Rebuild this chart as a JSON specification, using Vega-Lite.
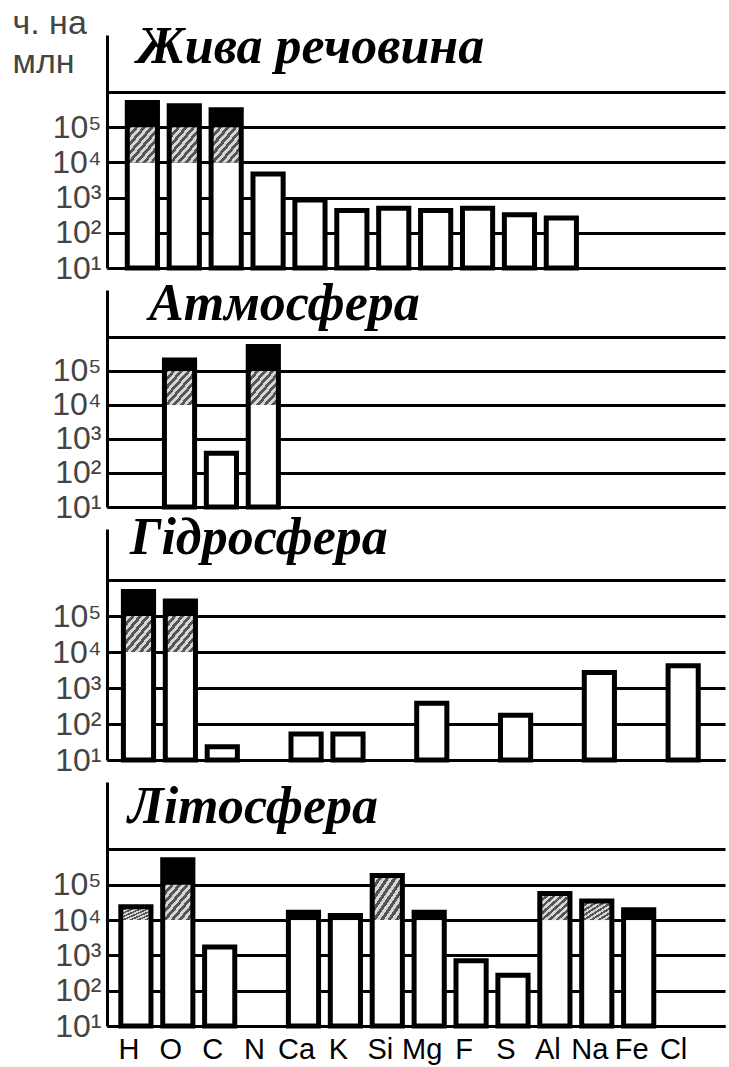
{
  "$schema": "https://vega.github.io/schema/vega-lite/v6.json",
  "background": "white",
  "padding": {"left": 12, "top": 6, "right": 2, "bottom": 2},
  "bounds": "flush",
  "spacing": 22,
  "datasets": {
    "segs": [
      {"sp": "L", "el": "H", "lo": 10, "hi": 10000, "k": "w"},
      {"sp": "L", "el": "H", "lo": 10000, "hi": 100000, "k": "h"},
      {"sp": "L", "el": "H", "lo": 100000, "hi": 501000, "k": "b"},
      {"sp": "L", "el": "O", "lo": 10, "hi": 10000, "k": "w"},
      {"sp": "L", "el": "O", "lo": 10000, "hi": 100000, "k": "h"},
      {"sp": "L", "el": "O", "lo": 100000, "hi": 407000, "k": "b"},
      {"sp": "L", "el": "C", "lo": 10, "hi": 10000, "k": "w"},
      {"sp": "L", "el": "C", "lo": 10000, "hi": 100000, "k": "h"},
      {"sp": "L", "el": "C", "lo": 100000, "hi": 316000, "k": "b"},
      {"sp": "L", "el": "N", "lo": 10, "hi": 4677, "k": "w"},
      {"sp": "L", "el": "Ca", "lo": 10, "hi": 851, "k": "w"},
      {"sp": "L", "el": "K", "lo": 10, "hi": 427, "k": "w"},
      {"sp": "L", "el": "Si", "lo": 10, "hi": 501, "k": "w"},
      {"sp": "L", "el": "Mg", "lo": 10, "hi": 427, "k": "w"},
      {"sp": "L", "el": "F", "lo": 10, "hi": 501, "k": "w"},
      {"sp": "L", "el": "S", "lo": 10, "hi": 324, "k": "w"},
      {"sp": "L", "el": "Al", "lo": 10, "hi": 263, "k": "w"},
      {"sp": "A", "el": "O", "lo": 10, "hi": 10000, "k": "w"},
      {"sp": "A", "el": "O", "lo": 10000, "hi": 100000, "k": "h"},
      {"sp": "A", "el": "O", "lo": 100000, "hi": 209000, "k": "b"},
      {"sp": "A", "el": "C", "lo": 10, "hi": 380, "k": "w"},
      {"sp": "A", "el": "N", "lo": 10, "hi": 10000, "k": "w"},
      {"sp": "A", "el": "N", "lo": 10000, "hi": 100000, "k": "h"},
      {"sp": "A", "el": "N", "lo": 100000, "hi": 525000, "k": "b"},
      {"sp": "H", "el": "H", "lo": 10, "hi": 10000, "k": "w"},
      {"sp": "H", "el": "H", "lo": 10000, "hi": 100000, "k": "h"},
      {"sp": "H", "el": "H", "lo": 100000, "hi": 479000, "k": "b"},
      {"sp": "H", "el": "O", "lo": 10, "hi": 10000, "k": "w"},
      {"sp": "H", "el": "O", "lo": 10000, "hi": 100000, "k": "h"},
      {"sp": "H", "el": "O", "lo": 100000, "hi": 263000, "k": "b"},
      {"sp": "H", "el": "C", "lo": 10, "hi": 23.4, "k": "w"},
      {"sp": "H", "el": "Ca", "lo": 10, "hi": 52.5, "k": "w"},
      {"sp": "H", "el": "K", "lo": 10, "hi": 52.5, "k": "w"},
      {"sp": "H", "el": "Mg", "lo": 10, "hi": 380, "k": "w"},
      {"sp": "H", "el": "S", "lo": 10, "hi": 174, "k": "w"},
      {"sp": "H", "el": "Na", "lo": 10, "hi": 2692, "k": "w"},
      {"sp": "H", "el": "Cl", "lo": 10, "hi": 4169, "k": "w"},
      {"sp": "T", "el": "H", "lo": 10, "hi": 10000, "k": "w"},
      {"sp": "T", "el": "H", "lo": 10000, "hi": 24000, "k": "h"},
      {"sp": "T", "el": "O", "lo": 10, "hi": 10000, "k": "w"},
      {"sp": "T", "el": "O", "lo": 10000, "hi": 100000, "k": "h"},
      {"sp": "T", "el": "O", "lo": 100000, "hi": 513000, "k": "b"},
      {"sp": "T", "el": "C", "lo": 10, "hi": 1738, "k": "w"},
      {"sp": "T", "el": "Ca", "lo": 10, "hi": 10000, "k": "w"},
      {"sp": "T", "el": "Ca", "lo": 10000, "hi": 16600, "k": "b"},
      {"sp": "T", "el": "K", "lo": 10, "hi": 10000, "k": "w"},
      {"sp": "T", "el": "K", "lo": 10000, "hi": 13490, "k": "b"},
      {"sp": "T", "el": "Si", "lo": 10, "hi": 10000, "k": "w"},
      {"sp": "T", "el": "Si", "lo": 10000, "hi": 182000, "k": "h"},
      {"sp": "T", "el": "Mg", "lo": 10, "hi": 10000, "k": "w"},
      {"sp": "T", "el": "Mg", "lo": 10000, "hi": 16600, "k": "b"},
      {"sp": "T", "el": "F", "lo": 10, "hi": 708, "k": "w"},
      {"sp": "T", "el": "S", "lo": 10, "hi": 275, "k": "w"},
      {"sp": "T", "el": "Al", "lo": 10, "hi": 10000, "k": "w"},
      {"sp": "T", "el": "Al", "lo": 10000, "hi": 56234, "k": "h"},
      {"sp": "T", "el": "Na", "lo": 10, "hi": 10000, "k": "w"},
      {"sp": "T", "el": "Na", "lo": 10000, "hi": 34674, "k": "h"},
      {"sp": "T", "el": "Fe", "lo": 10, "hi": 10000, "k": "w"},
      {"sp": "T", "el": "Fe", "lo": 10000, "hi": 19500, "k": "b"}
    ],
    "bars": [
      {"sp": "L", "el": "H", "v": 501000},
      {"sp": "L", "el": "O", "v": 407000},
      {"sp": "L", "el": "C", "v": 316000},
      {"sp": "L", "el": "N", "v": 4677},
      {"sp": "L", "el": "Ca", "v": 851},
      {"sp": "L", "el": "K", "v": 427},
      {"sp": "L", "el": "Si", "v": 501},
      {"sp": "L", "el": "Mg", "v": 427},
      {"sp": "L", "el": "F", "v": 501},
      {"sp": "L", "el": "S", "v": 324},
      {"sp": "L", "el": "Al", "v": 263},
      {"sp": "A", "el": "O", "v": 209000},
      {"sp": "A", "el": "C", "v": 380},
      {"sp": "A", "el": "N", "v": 525000},
      {"sp": "H", "el": "H", "v": 479000},
      {"sp": "H", "el": "O", "v": 263000},
      {"sp": "H", "el": "C", "v": 23.4},
      {"sp": "H", "el": "Ca", "v": 52.5},
      {"sp": "H", "el": "K", "v": 52.5},
      {"sp": "H", "el": "Mg", "v": 380},
      {"sp": "H", "el": "S", "v": 174},
      {"sp": "H", "el": "Na", "v": 2692},
      {"sp": "H", "el": "Cl", "v": 4169},
      {"sp": "T", "el": "H", "v": 24000},
      {"sp": "T", "el": "O", "v": 513000},
      {"sp": "T", "el": "C", "v": 1738},
      {"sp": "T", "el": "Ca", "v": 16600},
      {"sp": "T", "el": "K", "v": 13490},
      {"sp": "T", "el": "Si", "v": 182000},
      {"sp": "T", "el": "Mg", "v": 16600},
      {"sp": "T", "el": "F", "v": 708},
      {"sp": "T", "el": "S", "v": 275},
      {"sp": "T", "el": "Al", "v": 56234},
      {"sp": "T", "el": "Na", "v": 34674},
      {"sp": "T", "el": "Fe", "v": 19500}
    ]
  },
  "config": {
    "view": {"stroke": null},
    "title": {"font": "Liberation Serif", "fontStyle": "italic", "fontWeight": "bold", "fontSize": 52, "anchor": "start", "frame": "group", "offset": 0, "baseline": "alphabetic", "color": "black"},
    "axisY": {"grid": true, "gridColor": "black", "gridWidth": 3, "gridOpacity": 1, "ticks": false, "domain": true, "domainColor": "black", "domainWidth": 3, "labelFont": "Liberation Sans", "labelFontSize": 32, "labelColor": "#444", "labelPadding": 6, "labelOverlap": false, "labelFlush": false, "labelBound": false},
    "axisX": {"title": null, "ticks": false, "domain": true, "domainColor": "black", "domainWidth": 3, "grid": false, "labelFont": "Liberation Sans", "labelFontSize": 29, "labelColor": "black", "labelAngle": 0, "labelPadding": 9, "labelOffset": -7}
  },
  "vconcat": [
    {
      "width": 618, "height": 233,
      "title": {"text": "Жива речовина", "dx": 30, "dy": 72},
      "encoding": {
        "x": {"field": "el", "type": "nominal", "sort": null, "scale": {"domain": ["H","O","C","N","Ca","K","Si","Mg","F","S","Al","Na","Fe","Cl"], "paddingInner": 0.28, "paddingOuter": 0.515, "align": 0.47}, "axis": {"labels": false}}
      },
      "layer": [
        {"data": {"name": "segs"}, "transform": [{"filter": "datum.sp === 'L' && datum.k !== 'h'"}],
         "mark": {"type": "bar", "strokeWidth": 0},
         "encoding": {
           "y": {"field": "lo", "type": "quantitative", "scale": {"type": "log", "domain": [10, 41686938], "nice": false}, "axis": {"values": [10, 100, 1000, 10000, 100000, 1000000], "labelExpr": "datum.value >= 1000000 ? '' : '10' + ['⁰','¹','²','³','⁴','⁵'][round(log(datum.value)/LN10)]", "title": ["ч. на", "млн"], "titleAngle": 0, "titleAlign": "left", "titleBaseline": "alphabetic", "titleX": -95, "titleY": -2, "titleFontSize": 34, "titleFont": "Liberation Sans", "titleFontWeight": "normal", "titleColor": "#444", "titleLineHeight": 39}},
           "y2": {"field": "hi"},
           "color": {"field": "k", "type": "nominal", "scale": {"domain": ["w","b"], "range": ["white","black"]}, "legend": null}
         }},
        {"data": {"name": "segs"}, "transform": [{"filter": "datum.sp === 'L' && datum.k === 'h'"}],
         "mark": {"type": "bar", "strokeWidth": 0, "color": {"gradient": "linear", "x1": 0, "y1": 0, "x2": 1, "y2": 1, "stops": [{"offset": 0, "color": "#555555"}, {"offset": 0.0625, "color": "#555555"}, {"offset": 0.0625, "color": "#d6d6d6"}, {"offset": 0.125, "color": "#d6d6d6"}, {"offset": 0.125, "color": "#555555"}, {"offset": 0.1875, "color": "#555555"}, {"offset": 0.1875, "color": "#d6d6d6"}, {"offset": 0.25, "color": "#d6d6d6"}, {"offset": 0.25, "color": "#555555"}, {"offset": 0.3125, "color": "#555555"}, {"offset": 0.3125, "color": "#d6d6d6"}, {"offset": 0.375, "color": "#d6d6d6"}, {"offset": 0.375, "color": "#555555"}, {"offset": 0.4375, "color": "#555555"}, {"offset": 0.4375, "color": "#d6d6d6"}, {"offset": 0.5, "color": "#d6d6d6"}, {"offset": 0.5, "color": "#555555"}, {"offset": 0.5625, "color": "#555555"}, {"offset": 0.5625, "color": "#d6d6d6"}, {"offset": 0.625, "color": "#d6d6d6"}, {"offset": 0.625, "color": "#555555"}, {"offset": 0.6875, "color": "#555555"}, {"offset": 0.6875, "color": "#d6d6d6"}, {"offset": 0.75, "color": "#d6d6d6"}, {"offset": 0.75, "color": "#555555"}, {"offset": 0.8125, "color": "#555555"}, {"offset": 0.8125, "color": "#d6d6d6"}, {"offset": 0.875, "color": "#d6d6d6"}, {"offset": 0.875, "color": "#555555"}, {"offset": 0.9375, "color": "#555555"}, {"offset": 0.9375, "color": "#d6d6d6"}, {"offset": 1, "color": "#d6d6d6"}]}},
         "encoding": {"y": {"field": "lo", "type": "quantitative"}, "y2": {"field": "hi"}}},
        {"data": {"name": "bars"}, "transform": [{"filter": "datum.sp === 'L'"}],
         "mark": {"type": "bar", "filled": false, "color": "black", "strokeWidth": 5},
         "encoding": {"y": {"field": "v", "type": "quantitative"}, "y2": {"datum": 10}}}
      ]
    },
    {
      "width": 618, "height": 217,
      "title": {"text": "Атмосфера", "dx": 42, "dy": 45},
      "encoding": {
        "x": {"field": "el", "type": "nominal", "sort": null, "scale": {"domain": ["H","O","C","N","Ca","K","Si","Mg","F","S","Al","Na","Fe","Cl"], "paddingInner": 0.28, "paddingOuter": 0.515, "align": 0.36}, "axis": {"labels": false}}
      },
      "layer": [
        {"data": {"name": "segs"}, "transform": [{"filter": "datum.sp === 'A' && datum.k !== 'h'"}],
         "mark": {"type": "bar", "strokeWidth": 0},
         "encoding": {
           "y": {"field": "lo", "type": "quantitative", "scale": {"type": "log", "domain": [10, 23988329], "nice": false}, "axis": {"values": [10, 100, 1000, 10000, 100000, 1000000], "labelExpr": "datum.value >= 1000000 ? '' : '10' + ['⁰','¹','²','³','⁴','⁵'][round(log(datum.value)/LN10)]", "title": null}},
           "y2": {"field": "hi"},
           "color": {"field": "k", "type": "nominal", "scale": {"domain": ["w","b"], "range": ["white","black"]}, "legend": null}
         }},
        {"data": {"name": "segs"}, "transform": [{"filter": "datum.sp === 'A' && datum.k === 'h'"}],
         "mark": {"type": "bar", "strokeWidth": 0, "color": {"gradient": "linear", "x1": 0, "y1": 0, "x2": 1, "y2": 1, "stops": [{"offset": 0, "color": "#555555"}, {"offset": 0.0625, "color": "#555555"}, {"offset": 0.0625, "color": "#d6d6d6"}, {"offset": 0.125, "color": "#d6d6d6"}, {"offset": 0.125, "color": "#555555"}, {"offset": 0.1875, "color": "#555555"}, {"offset": 0.1875, "color": "#d6d6d6"}, {"offset": 0.25, "color": "#d6d6d6"}, {"offset": 0.25, "color": "#555555"}, {"offset": 0.3125, "color": "#555555"}, {"offset": 0.3125, "color": "#d6d6d6"}, {"offset": 0.375, "color": "#d6d6d6"}, {"offset": 0.375, "color": "#555555"}, {"offset": 0.4375, "color": "#555555"}, {"offset": 0.4375, "color": "#d6d6d6"}, {"offset": 0.5, "color": "#d6d6d6"}, {"offset": 0.5, "color": "#555555"}, {"offset": 0.5625, "color": "#555555"}, {"offset": 0.5625, "color": "#d6d6d6"}, {"offset": 0.625, "color": "#d6d6d6"}, {"offset": 0.625, "color": "#555555"}, {"offset": 0.6875, "color": "#555555"}, {"offset": 0.6875, "color": "#d6d6d6"}, {"offset": 0.75, "color": "#d6d6d6"}, {"offset": 0.75, "color": "#555555"}, {"offset": 0.8125, "color": "#555555"}, {"offset": 0.8125, "color": "#d6d6d6"}, {"offset": 0.875, "color": "#d6d6d6"}, {"offset": 0.875, "color": "#555555"}, {"offset": 0.9375, "color": "#555555"}, {"offset": 0.9375, "color": "#d6d6d6"}, {"offset": 1, "color": "#d6d6d6"}]}},
         "encoding": {"y": {"field": "lo", "type": "quantitative"}, "y2": {"field": "hi"}}},
        {"data": {"name": "bars"}, "transform": [{"filter": "datum.sp === 'A'"}],
         "mark": {"type": "bar", "filled": false, "color": "black", "strokeWidth": 5},
         "encoding": {"y": {"field": "v", "type": "quantitative"}, "y2": {"datum": 10}}}
      ]
    },
    {
      "width": 618, "height": 231,
      "title": {"text": "Гідросфера", "dx": 23, "dy": 40},
      "encoding": {
        "x": {"field": "el", "type": "nominal", "sort": null, "scale": {"domain": ["H","O","C","N","Ca","K","Si","Mg","F","S","Al","Na","Fe","Cl"], "paddingInner": 0.28, "paddingOuter": 0.515, "align": 0.38}, "axis": {"labels": false}}
      },
      "layer": [
        {"data": {"name": "segs"}, "transform": [{"filter": "datum.sp === 'H' && datum.k !== 'h'"}],
         "mark": {"type": "bar", "strokeWidth": 0},
         "encoding": {
           "y": {"field": "lo", "type": "quantitative", "scale": {"type": "log", "domain": [10, 26302680], "nice": false}, "axis": {"values": [10, 100, 1000, 10000, 100000, 1000000], "labelExpr": "datum.value >= 1000000 ? '' : '10' + ['⁰','¹','²','³','⁴','⁵'][round(log(datum.value)/LN10)]", "title": null}},
           "y2": {"field": "hi"},
           "color": {"field": "k", "type": "nominal", "scale": {"domain": ["w","b"], "range": ["white","black"]}, "legend": null}
         }},
        {"data": {"name": "segs"}, "transform": [{"filter": "datum.sp === 'H' && datum.k === 'h'"}],
         "mark": {"type": "bar", "strokeWidth": 0, "color": {"gradient": "linear", "x1": 0, "y1": 0, "x2": 1, "y2": 1, "stops": [{"offset": 0, "color": "#555555"}, {"offset": 0.0625, "color": "#555555"}, {"offset": 0.0625, "color": "#d6d6d6"}, {"offset": 0.125, "color": "#d6d6d6"}, {"offset": 0.125, "color": "#555555"}, {"offset": 0.1875, "color": "#555555"}, {"offset": 0.1875, "color": "#d6d6d6"}, {"offset": 0.25, "color": "#d6d6d6"}, {"offset": 0.25, "color": "#555555"}, {"offset": 0.3125, "color": "#555555"}, {"offset": 0.3125, "color": "#d6d6d6"}, {"offset": 0.375, "color": "#d6d6d6"}, {"offset": 0.375, "color": "#555555"}, {"offset": 0.4375, "color": "#555555"}, {"offset": 0.4375, "color": "#d6d6d6"}, {"offset": 0.5, "color": "#d6d6d6"}, {"offset": 0.5, "color": "#555555"}, {"offset": 0.5625, "color": "#555555"}, {"offset": 0.5625, "color": "#d6d6d6"}, {"offset": 0.625, "color": "#d6d6d6"}, {"offset": 0.625, "color": "#555555"}, {"offset": 0.6875, "color": "#555555"}, {"offset": 0.6875, "color": "#d6d6d6"}, {"offset": 0.75, "color": "#d6d6d6"}, {"offset": 0.75, "color": "#555555"}, {"offset": 0.8125, "color": "#555555"}, {"offset": 0.8125, "color": "#d6d6d6"}, {"offset": 0.875, "color": "#d6d6d6"}, {"offset": 0.875, "color": "#555555"}, {"offset": 0.9375, "color": "#555555"}, {"offset": 0.9375, "color": "#d6d6d6"}, {"offset": 1, "color": "#d6d6d6"}]}},
         "encoding": {"y": {"field": "lo", "type": "quantitative"}, "y2": {"field": "hi"}}},
        {"data": {"name": "bars"}, "transform": [{"filter": "datum.sp === 'H'"}],
         "mark": {"type": "bar", "filled": false, "color": "black", "strokeWidth": 5},
         "encoding": {"y": {"field": "v", "type": "quantitative"}, "y2": {"datum": 10}}}
      ]
    },
    {
      "width": 618, "height": 244,
      "title": {"text": "Літосфера", "dx": 21, "dy": 56},
      "encoding": {
        "x": {"field": "el", "type": "nominal", "sort": null, "scale": {"domain": ["H","O","C","N","Ca","K","Si","Mg","F","S","Al","Na","Fe","Cl"], "paddingInner": 0.28, "paddingOuter": 0.515, "align": 0.32}, "axis": {"labels": true}}
      },
      "layer": [
        {"data": {"name": "segs"}, "transform": [{"filter": "datum.sp === 'T' && datum.k !== 'h'"}],
         "mark": {"type": "bar", "strokeWidth": 0},
         "encoding": {
           "y": {"field": "lo", "type": "quantitative", "scale": {"type": "log", "domain": [10, 81283052], "nice": false}, "axis": {"values": [10, 100, 1000, 10000, 100000, 1000000], "labelExpr": "datum.value >= 1000000 ? '' : '10' + ['⁰','¹','²','³','⁴','⁵'][round(log(datum.value)/LN10)]", "title": null}},
           "y2": {"field": "hi"},
           "color": {"field": "k", "type": "nominal", "scale": {"domain": ["w","b"], "range": ["white","black"]}, "legend": null}
         }},
        {"data": {"name": "segs"}, "transform": [{"filter": "datum.sp === 'T' && datum.k === 'h'"}],
         "mark": {"type": "bar", "strokeWidth": 0, "color": {"gradient": "linear", "x1": 0, "y1": 0, "x2": 1, "y2": 1, "stops": [{"offset": 0, "color": "#555555"}, {"offset": 0.0625, "color": "#555555"}, {"offset": 0.0625, "color": "#d6d6d6"}, {"offset": 0.125, "color": "#d6d6d6"}, {"offset": 0.125, "color": "#555555"}, {"offset": 0.1875, "color": "#555555"}, {"offset": 0.1875, "color": "#d6d6d6"}, {"offset": 0.25, "color": "#d6d6d6"}, {"offset": 0.25, "color": "#555555"}, {"offset": 0.3125, "color": "#555555"}, {"offset": 0.3125, "color": "#d6d6d6"}, {"offset": 0.375, "color": "#d6d6d6"}, {"offset": 0.375, "color": "#555555"}, {"offset": 0.4375, "color": "#555555"}, {"offset": 0.4375, "color": "#d6d6d6"}, {"offset": 0.5, "color": "#d6d6d6"}, {"offset": 0.5, "color": "#555555"}, {"offset": 0.5625, "color": "#555555"}, {"offset": 0.5625, "color": "#d6d6d6"}, {"offset": 0.625, "color": "#d6d6d6"}, {"offset": 0.625, "color": "#555555"}, {"offset": 0.6875, "color": "#555555"}, {"offset": 0.6875, "color": "#d6d6d6"}, {"offset": 0.75, "color": "#d6d6d6"}, {"offset": 0.75, "color": "#555555"}, {"offset": 0.8125, "color": "#555555"}, {"offset": 0.8125, "color": "#d6d6d6"}, {"offset": 0.875, "color": "#d6d6d6"}, {"offset": 0.875, "color": "#555555"}, {"offset": 0.9375, "color": "#555555"}, {"offset": 0.9375, "color": "#d6d6d6"}, {"offset": 1, "color": "#d6d6d6"}]}},
         "encoding": {"y": {"field": "lo", "type": "quantitative"}, "y2": {"field": "hi"}}},
        {"data": {"name": "bars"}, "transform": [{"filter": "datum.sp === 'T'"}],
         "mark": {"type": "bar", "filled": false, "color": "black", "strokeWidth": 5},
         "encoding": {"y": {"field": "v", "type": "quantitative"}, "y2": {"datum": 10}}}
      ]
    }
  ]
}
